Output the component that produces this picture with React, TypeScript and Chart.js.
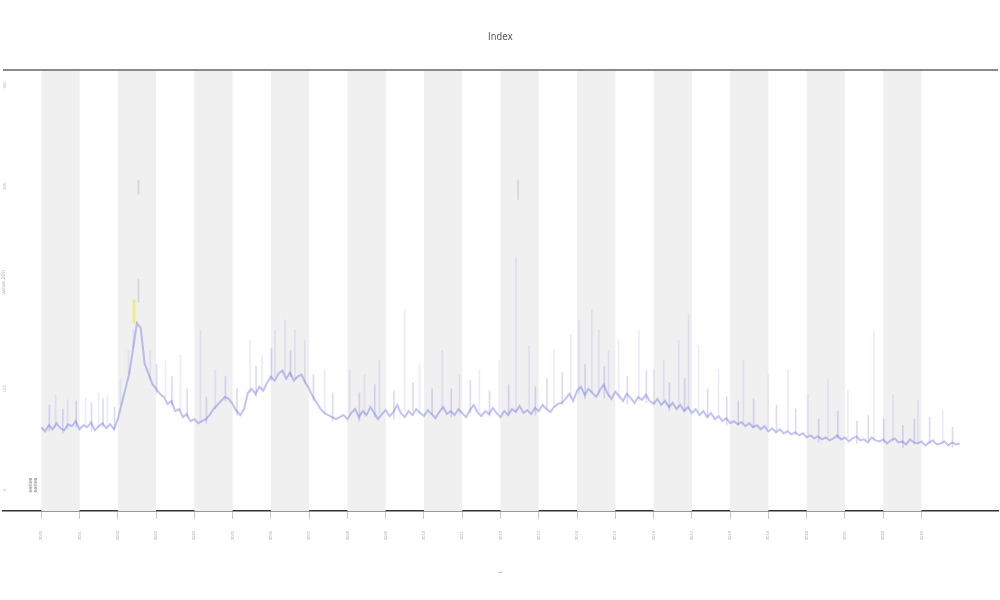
import { useEffect, useRef } from "react";
import { Chart, registerables } from "chart.js";

Chart.register(...registerables);

const titleText = "Index";
const xTitleText = "t";
const yTitleText = "value";
const legendText = "series";

const xTickValues = [0, 1, 2, 3, 4, 5, 6, 7, 8, 9, 10, 11, 12, 13, 14, 15, 16, 17, 18, 19, 20, 21, 22, 23];
const xTickLabels = [
  "2000", "2001", "2002", "2003", "2004", "2005", "2006", "2007", "2008", "2009", "2010", "2011",
  "2012", "2013", "2014", "2015", "2016", "2017", "2018", "2019", "2020", "2021", "2022", "2023",
];
const yTickValues = [0, 100, 200, 300, 400];
const yTickLabels = ["0", "100", "200", "300", "400"];

// main series, one value per 0.1 x-unit
const seriesValues = [
  62, 58, 64, 60, 66, 61, 59, 65, 63, 68, 60, 64, 62, 67, 59, 63, 66, 61, 65, 60,
  70, 85, 100, 115, 140, 165, 160, 125, 115, 105,
  100, 95, 92, 85, 88, 78, 80, 72, 75, 68,
  70, 66, 68, 70, 74, 80, 84, 88, 92, 90,
  85, 78, 74, 80, 96, 100, 95, 102, 98, 106,
  112, 108, 115, 118, 110, 116, 108, 112, 114, 106,
  100, 92, 86, 80, 76, 74, 72, 70, 72,
  74, 70, 76, 80, 72, 78, 74, 82, 76, 70,
  75, 79, 73, 77, 84, 76, 72, 78, 74, 80,
  76, 73, 79, 75, 71, 77, 82, 75, 78, 74,
  80, 76, 72, 79, 84, 77, 73, 78, 75, 81,
  76, 72, 78, 74, 80, 77, 83, 76, 79, 75,
  81, 78, 84, 80, 77, 82, 85,
  86, 90, 95, 88, 98, 102, 94, 100, 96, 92, 99, 104, 95, 90, 97, 93, 88, 95, 91, 86, 92, 89, 94, 88, 85,
  90, 84, 88, 82, 86, 80, 84, 78, 82, 76, 80, 74, 78, 72, 76, 70, 73, 68, 71, 66,
  68, 65, 67, 63, 66, 62, 64, 60, 63, 58, 61, 57, 60, 56, 58, 55, 57, 54, 56, 52,
  54, 51, 53, 50, 52, 49, 51, 54, 50, 52, 48, 51, 53, 49, 50, 47, 52, 49, 48, 50,
  46, 49, 51, 47, 48, 45, 50, 47, 46, 48, 44, 47, 49, 45, 46, 48, 44, 47, 45, 46,
];

// tall short-lived spikes
const spikeX = [
  0.39, 0.7, 1.17, 1.51, 1.74, 2.08, 2.29, 2.42, 2.86, 3.26, 3.65, 4.17, 4.56, 5.47, 5.78, 6.12,
  6.38, 6.64, 6.9, 7.42, 8.07, 8.46, 8.85, 9.51, 9.9, 10.49, 10.94, 11.46, 11.98, 12.42, 12.76,
  13.41, 13.85, 14.06, 14.4, 14.58, 14.84, 15.1, 15.63, 16.02, 16.28, 16.67, 16.93, 17.19, 17.71,
  18.36, 19.01, 19.53, 20.05, 20.57, 21.09, 21.77, 22.27, 22.92, 23.57,
];
const spikeLow = [
  62, 60, 64, 62, 63, 85, 115, 140, 110, 92, 78, 68, 80, 96, 100, 112,
  115, 110, 106, 76, 75, 72, 76, 78, 76, 80, 75, 78, 76, 78, 80,
  82, 90, 95, 96, 94, 92, 90, 88, 86, 86, 82, 80, 78, 74,
  66, 61, 58, 54, 52, 51, 49, 48, 46, 46,
];
const spikeHigh = [
  94, 89, 91, 97, 93, 109, 138, 158, 138, 128, 133, 158, 119, 148, 133, 158,
  168, 158, 148, 119, 119, 114, 128, 178, 124, 138, 114, 119, 128, 230, 143,
  138, 153, 168, 178, 158, 138, 148, 158, 119, 128, 148, 173, 143, 119,
  128, 114, 119, 94, 109, 99, 158, 94, 89, 79,
];

// small noise spikes
const smallX = [
  0.2, 0.55, 0.9, 1.3, 1.6, 1.9, 3.0, 3.4, 3.8, 4.3, 4.8, 5.1, 5.6, 6.0, 6.5, 7.1, 7.6,
  8.3, 8.7, 9.2, 9.7, 10.2, 10.7, 11.2, 11.7, 12.2, 12.9, 13.2, 13.6, 14.2, 14.7, 15.3,
  15.8, 16.4, 16.8, 17.4, 17.9, 18.2, 18.6, 19.2, 19.7, 20.3, 20.8, 21.3, 21.6, 22.0,
  22.5, 22.8, 23.2, 23.8,
];
const smallLow = [
  58, 56, 62, 58, 62, 60, 96, 84, 72, 66, 88, 74, 92, 108, 112, 88, 68,
  68, 72, 70, 78, 75, 72, 76, 73, 76, 74, 80, 84, 90, 91, 85,
  86, 78, 78, 72, 64, 64, 62, 59, 55, 47, 51, 46, 49, 47,
  42, 45, 46, 42,
];
const smallHigh = [
  84, 80, 88, 86, 90, 82, 124, 112, 100, 92, 112, 100, 122, 140, 138, 114, 96,
  96, 104, 98, 106, 100, 100, 108, 98, 104, 102, 110, 116, 124, 122, 112,
  118, 106, 110, 100, 92, 88, 90, 84, 80, 70, 78, 68, 74, 70,
  64, 70, 72, 62,
];

// detached faint marks and highlighted (yellow) values
const markX = [2.5, 2.5, 12.42];
const markLow = [185, 292, 287];
const markHigh = [208, 306, 306];
const highlightX = [2.5];
const highlightLow = [165];
const highlightHigh = [188];

const bandStarts = [0, 2, 4, 6, 8, 10, 12, 14, 16, 18, 20, 22];

export default function App() {
  const ref = useRef<HTMLCanvasElement | null>(null);

  useEffect(() => {
    if (!ref.current) return;

    const bandPlugin = {
      id: "bands",
      beforeDatasetsDraw(chart: any) {
        const { ctx, chartArea, scales } = chart;
        ctx.save();
        ctx.fillStyle = "#f0f0f0";
        for (const b of bandStarts) {
          const x0 = scales.x.getPixelForValue(b);
          const x1 = scales.x.getPixelForValue(b + 1);
          ctx.fillRect(x0, chartArea.top, x1 - x0, chartArea.bottom - chartArea.top);
        }
        ctx.restore();
      },
      afterDraw(chart: any) {
        const { ctx, chartArea, scales } = chart;
        ctx.save();
        ctx.strokeStyle = "#8a8a8a";
        ctx.lineWidth = 2;
        ctx.beginPath();
        ctx.moveTo(chartArea.left, chartArea.top);
        ctx.lineTo(chartArea.right, chartArea.top);
        ctx.stroke();

        ctx.fillStyle = "#bbbbbb";
        ctx.font = "4px 'DejaVu Sans'";
        ctx.textAlign = "center";
        ctx.textBaseline = "middle";
        yTickValues.forEach((v, i) => {
          if (v === 200) return;
          const y = scales.y.getPixelForValue(v);
          ctx.save();
          ctx.translate(5, y);
          ctx.rotate(-Math.PI / 2);
          ctx.fillText(yTickLabels[i], 0, 0);
          ctx.restore();
        });
        ctx.save();
        ctx.fillStyle = "#aaaaaa";
        ctx.font = "5px 'DejaVu Sans'";
        ctx.translate(4, scales.y.getPixelForValue(205));
        ctx.rotate(-Math.PI / 2);
        ctx.fillText(yTitleText + " " + yTickLabels[2], 0, 0);
        ctx.restore();

        ctx.fillStyle = "#555555";
        ctx.font = "10px 'DejaVu Sans Condensed', 'DejaVu Sans'";
        ctx.fillText(titleText, (chartArea.left + chartArea.right) / 2, 37);

        ctx.save();
        ctx.fillStyle = "#999999";
        ctx.font = "5px 'DejaVu Sans'";
        ctx.translate((chartArea.left + chartArea.right) / 2, 572);
        ctx.rotate(-Math.PI / 2);
        ctx.fillText(xTitleText, 0, 0);
        ctx.restore();

        ctx.save();
        ctx.fillStyle = "#666666";
        ctx.font = "5px 'DejaVu Sans'";
        ctx.translate(33, 485);
        ctx.rotate(-Math.PI / 2);
        ctx.fillText(legendText, 0, -2);
        ctx.fillText(legendText, 0, 3);
        ctx.restore();

        ctx.restore();
      },
    };

    const chart = new Chart(ref.current, {
      type: "line",
      data: {
        datasets: [
          {
            type: "line",
            label: legendText,
            data: seriesValues.map((v, i) => ({ x: i / 10, y: v })),
            borderColor: "rgba(95, 95, 225, 0.38)",
            borderWidth: 2,
            pointRadius: 0,
            tension: 0,
            order: 1,
          } as any,
          {
            type: "bar",
            label: "spikes",
            data: spikeX.map((x, i) => ({ x, y: [spikeLow[i], spikeHigh[i]] })),
            backgroundColor: "rgba(120, 120, 225, 0.15)",
            barThickness: 1,
            order: 2,
          } as any,
          {
            type: "bar",
            label: "small",
            data: smallX.map((x, i) => ({ x, y: [smallLow[i], smallHigh[i]] })),
            backgroundColor: "rgba(110, 110, 225, 0.25)",
            barThickness: 1,
            order: 2,
          } as any,
          {
            type: "bar",
            label: "marks",
            data: markX.map((x, i) => ({ x, y: [markLow[i], markHigh[i]] })),
            backgroundColor: "rgba(160, 160, 175, 0.35)",
            barThickness: 1,
            order: 3,
          } as any,
          {
            type: "bar",
            label: "highlight",
            data: highlightX.map((x, i) => ({ x, y: [highlightLow[i], highlightHigh[i]] })),
            backgroundColor: "rgba(235, 235, 90, 0.75)",
            barThickness: 2,
            order: 0,
          } as any,
        ],
      },
      options: {
        animation: false,
        responsive: true,
        maintainAspectRatio: false,
        layout: { padding: { top: 70, right: 2, left: 0, bottom: 0 } },
        plugins: {
          legend: { display: false },
          tooltip: { enabled: false },
          title: { display: false },
        },
        scales: {
          x: {
            type: "linear",
            min: -1,
            max: 25,
            offset: false,
            afterBuildTicks: (s: any) => {
              s.ticks = xTickValues.map((v) => ({ value: v }));
            },
            afterFit: (s: any) => {
              s.height = 89;
            },
            ticks: {
              autoSkip: false,
              minRotation: 90,
              maxRotation: 90,
              padding: 12,
              color: "#aaaaaa",
              font: { size: 4 },
              callback: (_v: any, i: number) => xTickLabels[i] ?? "",
            },
            grid: { offset: false, drawOnChartArea: false, tickLength: 8, color: "#c8c8c8" },
            border: { color: "#333333", width: 1.5 },
          },
          y: {
            type: "linear",
            min: -20.7,
            max: 414.8,
            afterFit: (s: any) => {
              s.width = 3;
            },
            ticks: { display: false },
            grid: { display: false },
            border: { display: false },
          },
        },
      },
      plugins: [bandPlugin],
    });

    return () => chart.destroy();
  }, []);

  return (
    <div style={{ position: "fixed", left: 0, top: 0, width: 1000, height: 600, background: "#fff" }}>
      <canvas ref={ref} />
    </div>
  );
}
